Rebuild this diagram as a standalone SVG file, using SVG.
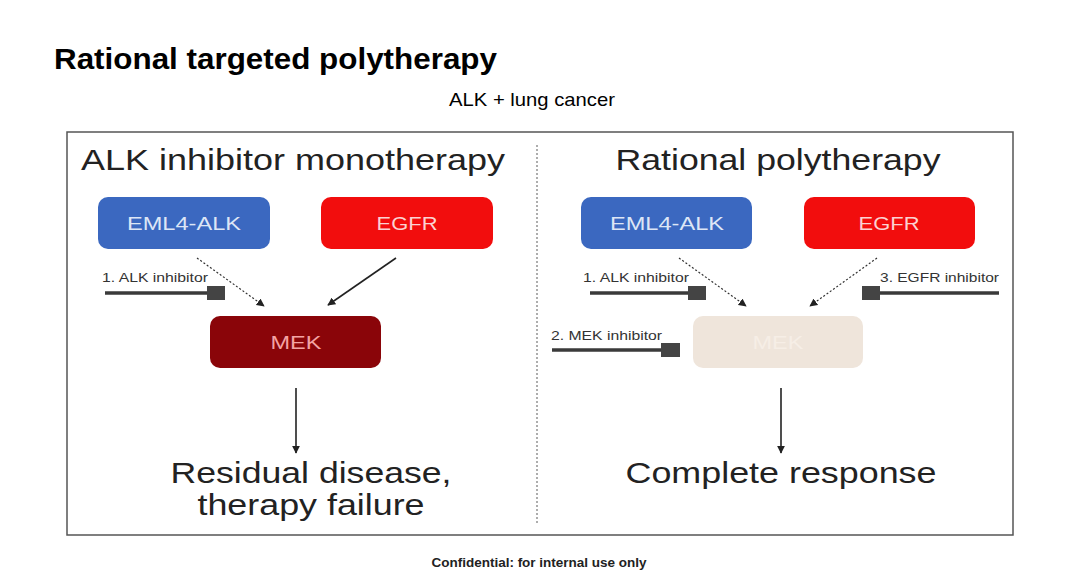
<svg xmlns="http://www.w3.org/2000/svg" width="1080" height="577" viewBox="0 0 1080 577">
<defs>
<style>
text{font-family:"Liberation Sans",Arial,sans-serif}
.big{font-size:29px;fill:#222}
.lbl{font-size:18px;text-anchor:middle}
.inh{font-size:13px;fill:#333}
.blue{fill:#3b68c0}
.red{fill:#f20d0d}
.inhline{stroke:#3a3a3a;stroke-width:3.5}
.sq{fill:#444}
.dot{stroke:#333;stroke-width:1.2;stroke-dasharray:2 2;fill:none}
.sol{stroke:#222;stroke-width:1.6;fill:none}
</style>
<marker id="ah" viewBox="0 0 10 10" refX="9" refY="5" markerWidth="8" markerHeight="8" markerUnits="userSpaceOnUse" orient="auto">
<path d="M0,0 L10,5 L0,10 z" fill="#222"/>
</marker>
</defs>
<rect width="1080" height="577" fill="#fff"/>
<text x="54" y="69" font-size="30" font-weight="bold" fill="#000" textLength="443" lengthAdjust="spacingAndGlyphs">Rational targeted polytherapy</text>
<text x="532" y="106" font-size="19" text-anchor="middle" fill="#000" textLength="166" lengthAdjust="spacingAndGlyphs">ALK + lung cancer</text>
<rect x="67" y="132" width="946" height="403" fill="none" stroke="#555" stroke-width="1.5"/>
<line x1="537" y1="145" x2="537" y2="525" stroke="#777" stroke-width="1.2" stroke-dasharray="2 2"/>

<g id="left-panel">
<text class="big" x="81" y="170" textLength="424" lengthAdjust="spacingAndGlyphs">ALK inhibitor monotherapy</text>
</g>
<g id="eml4-alk-left">
<rect class="blue" x="98" y="197" width="172" height="52" rx="10"/>
<text class="lbl" x="184" y="230" fill="#dde6f6" textLength="114" lengthAdjust="spacingAndGlyphs">EML4-ALK</text>
</g>
<g id="egfr-left">
<rect class="red" x="321" y="197" width="172" height="52" rx="10"/>
<text class="lbl" x="407" y="230" fill="#fbd2d2" textLength="61" lengthAdjust="spacingAndGlyphs">EGFR</text>
</g>
<g id="mek-left">
<rect x="210" y="316" width="171" height="52" rx="10" fill="#8a0509"/>
<text class="lbl" x="296" y="349" fill="#f4a3a3" textLength="51" lengthAdjust="spacingAndGlyphs">MEK</text>
</g>
<g id="alk-inhibitor-left">
<text class="inh" x="102" y="282" textLength="106" lengthAdjust="spacingAndGlyphs">1. ALK inhibitor</text>
<line class="inhline" x1="105" y1="293" x2="210" y2="293"/>
<rect class="sq" x="207" y="286" width="18" height="14"/>
</g>
<g id="outcome-left">
<text class="big" x="311" y="483" text-anchor="middle" textLength="281" lengthAdjust="spacingAndGlyphs">Residual disease,</text>
<text class="big" x="311" y="515" text-anchor="middle" textLength="227" lengthAdjust="spacingAndGlyphs">therapy failure</text>
</g>

<g id="right-panel">
<text class="big" x="778" y="170" text-anchor="middle" textLength="325" lengthAdjust="spacingAndGlyphs">Rational polytherapy</text>
</g>
<g id="eml4-alk-right">
<rect class="blue" x="581" y="197" width="171" height="52" rx="10"/>
<text class="lbl" x="667" y="230" fill="#dde6f6" textLength="114" lengthAdjust="spacingAndGlyphs">EML4-ALK</text>
</g>
<g id="egfr-right">
<rect class="red" x="804" y="197" width="171" height="52" rx="10"/>
<text class="lbl" x="889" y="230" fill="#fbd2d2" textLength="61" lengthAdjust="spacingAndGlyphs">EGFR</text>
</g>
<g id="mek-right">
<rect x="693" y="316" width="170" height="52" rx="10" fill="#efe5db"/>
<text class="lbl" x="778" y="349" fill="#f6eee6" textLength="51" lengthAdjust="spacingAndGlyphs">MEK</text>
</g>
<g id="alk-inhibitor-right">
<text class="inh" x="583" y="282" textLength="106" lengthAdjust="spacingAndGlyphs">1. ALK inhibitor</text>
<line class="inhline" x1="590" y1="293" x2="690" y2="293"/>
<rect class="sq" x="688" y="286" width="18" height="14"/>
</g>
<g id="egfr-inhibitor-right">
<text class="inh" x="880" y="282" textLength="119" lengthAdjust="spacingAndGlyphs">3. EGFR inhibitor</text>
<line class="inhline" x1="878" y1="293" x2="999" y2="293"/>
<rect class="sq" x="862" y="286" width="18" height="14"/>
</g>
<g id="mek-inhibitor-right">
<text class="inh" x="551" y="340" textLength="111" lengthAdjust="spacingAndGlyphs">2. MEK inhibitor</text>
<line class="inhline" x1="552" y1="350" x2="664" y2="350"/>
<rect class="sq" x="661" y="343" width="19" height="14"/>
</g>
<g id="outcome-right">
<text class="big" x="781" y="483" text-anchor="middle" textLength="311" lengthAdjust="spacingAndGlyphs">Complete response</text>
</g>

<g id="connectors">
<line class="dot" x1="197" y1="258" x2="264" y2="306" marker-end="url(#ah)"/>
<line class="sol" x1="396" y1="258" x2="328" y2="305" marker-end="url(#ah)"/>
<line class="sol" x1="296" y1="388" x2="296" y2="453" marker-end="url(#ah)"/>
<line class="dot" x1="679" y1="258" x2="746" y2="306" marker-end="url(#ah)"/>
<line class="dot" x1="877" y1="258" x2="810" y2="306" marker-end="url(#ah)"/>
<line class="sol" x1="781" y1="388" x2="781" y2="453" marker-end="url(#ah)"/>
</g>

<text x="539" y="567" font-size="12.5" font-weight="bold" text-anchor="middle" fill="#222" textLength="215" lengthAdjust="spacingAndGlyphs">Confidential: for internal use only</text>
</svg>
